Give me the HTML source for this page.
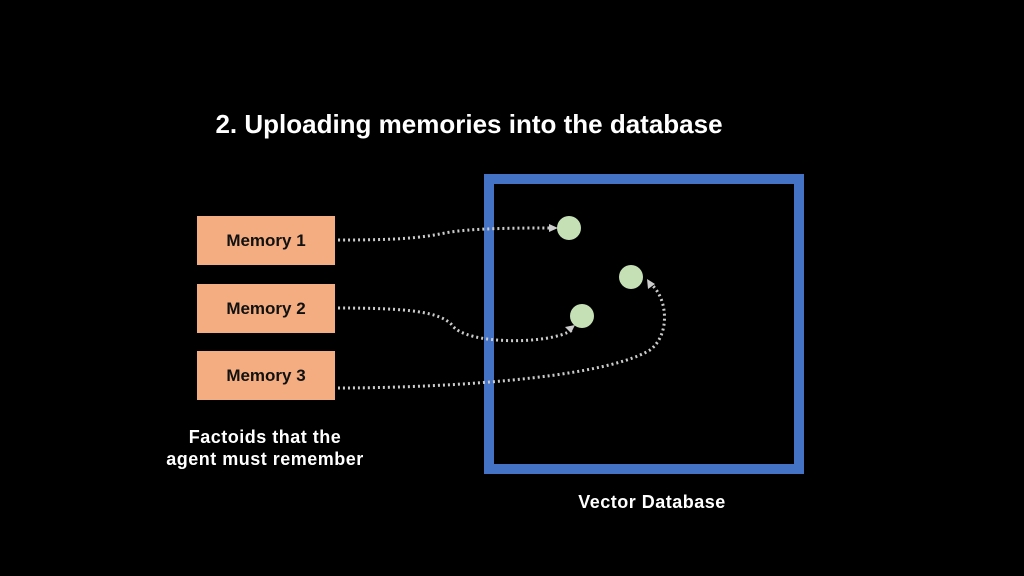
<!DOCTYPE html>
<html><head><style>
body{margin:0;width:1024px;height:576px;background:#000;overflow:hidden;position:relative;font-family:"Liberation Sans",sans-serif}
.t{position:absolute;width:1024px;top:109px;text-align:center;color:#fff;font-weight:bold;font-size:26px}
.m{position:absolute;left:197px;width:138px;height:49px;background:#f4ad80;color:#111;font-weight:bold;font-size:17px;line-height:49px;text-align:center}
.lbl{position:absolute;color:#fff;font-weight:bold;font-size:18px;text-align:center;letter-spacing:0.5px}
</style></head><body>
<div class="t" style="left:-43px">2. Uploading memories into the database</div>
<div class="m" style="top:216px">Memory 1</div>
<div class="m" style="top:284px">Memory 2</div>
<div class="m" style="top:351px">Memory 3</div>
<div class="lbl" style="left:140px;width:250px;top:426px;line-height:22px">Factoids that the<br>agent must remember</div>
<div class="lbl" style="left:552px;width:200px;top:492px">Vector Database</div>
<svg width="1024" height="576" style="position:absolute;left:0;top:0">
<rect x="489" y="179" width="310" height="290" fill="none" stroke="#4472c4" stroke-width="10"/>
<circle cx="569" cy="228" r="12" fill="#c5e0b4"/>
<circle cx="631" cy="277" r="12" fill="#c5e0b4"/>
<circle cx="582" cy="316" r="12" fill="#c5e0b4"/>
<g fill="none" stroke="#ccc" stroke-width="3" stroke-dasharray="2 3">
<path d="M338 240 C400 240 420 238 445 233 C470 228 520 228 552 228"/>
<path d="M338 308 C410 308 440 312 452 325 C465 345 550 345 572 330"/>
<path d="M338 388 C430 388 600 380 650 350 C670 335 668 300 652 285"/>
</g>
<g fill="#ccc">
<polygon points="558,228 549,224 549,232"/>
<polygon points="575,325 565,327 571,333"/>
<polygon points="647,279 648,289 655,284"/>
</g>
</svg>
</body></html>
